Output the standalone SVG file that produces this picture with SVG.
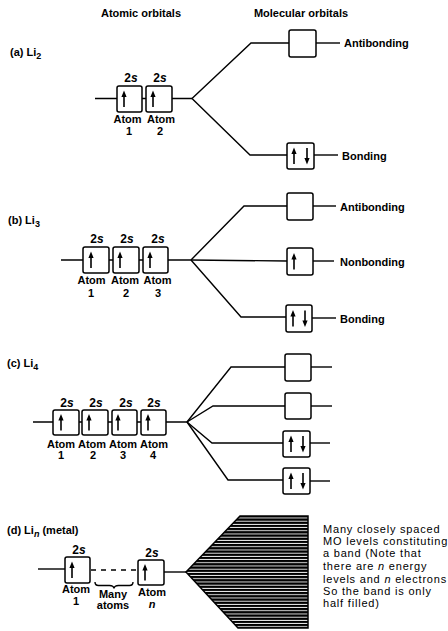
<svg xmlns="http://www.w3.org/2000/svg" width="448" height="631" viewBox="0 0 448 631">
<style>
.box{fill:#fff;stroke:#000;stroke-width:1.5}
.ln{fill:none;stroke:#000;stroke-width:1.4}
.t{font-family:"Liberation Sans",Arial,sans-serif;font-weight:bold;font-size:11px;fill:#000}
.c{text-anchor:middle}
.s2{font-family:"Liberation Sans",Arial,sans-serif;font-weight:bold;font-size:12px;text-anchor:middle}
.at{font-family:"Liberation Sans",Arial,sans-serif;font-weight:bold;font-size:11px;text-anchor:middle}
.d{font-family:"Liberation Sans",Arial,sans-serif;font-size:11px;letter-spacing:0.8px}
</style>
<defs>
<g id="up"><line x1="0" y1="8" x2="0" y2="-3" stroke="#000" stroke-width="1.6"/><polygon points="0,-8.5 -2.6,-2 2.6,-2" fill="#000"/></g>
<g id="dn"><line x1="0" y1="-8" x2="0" y2="3" stroke="#000" stroke-width="1.6"/><polygon points="0,8.5 -2.6,2 2.6,2" fill="#000"/></g>
<pattern id="hatch" width="8" height="3.2" patternUnits="userSpaceOnUse"><rect width="8" height="3.2" fill="#fff"/><rect y="0" width="8" height="2.3" fill="#000"/></pattern>
</defs>

<g id="headers">
<text class="t c" x="141" y="17">Atomic orbitals</text>
<text class="t c" x="301" y="17">Molecular orbitals</text>
</g>

<g id="connectors">
<!-- (a) -->
<line class="ln" x1="95" y1="98.5" x2="192" y2="98.5"/>
<polyline class="ln" points="192,98.5 251,43 289,43"/>
<polyline class="ln" points="192,98.5 250,155 287,155"/>
<line class="ln" x1="316" y1="43" x2="340" y2="43"/>
<line class="ln" x1="314" y1="155" x2="338" y2="155"/>
<!-- (b) -->
<line class="ln" x1="61" y1="260" x2="191" y2="260"/>
<polyline class="ln" points="191,260 244,206 287,206"/>
<polyline class="ln" points="191,260 287,261"/>
<polyline class="ln" points="191,260 241,317 286,317"/>
<line class="ln" x1="313" y1="206" x2="336" y2="206"/>
<line class="ln" x1="313" y1="261" x2="334" y2="261"/>
<line class="ln" x1="312" y1="318" x2="336" y2="318"/>
<!-- (c) -->
<line class="ln" x1="33" y1="422" x2="187" y2="422"/>
<polyline class="ln" points="187,422 231,367 285,367"/>
<polyline class="ln" points="187,422 213,406 285,406"/>
<polyline class="ln" points="187,422 212,443 283,443"/>
<polyline class="ln" points="187,422 228,480 283,480"/>
<line class="ln" x1="311" y1="367" x2="332" y2="367"/>
<line class="ln" x1="311" y1="406" x2="332" y2="406"/>
<line class="ln" x1="310" y1="443" x2="330" y2="443"/>
<line class="ln" x1="310" y1="481" x2="330" y2="481"/>
<!-- (d) -->
<line class="ln" x1="38" y1="569" x2="65" y2="569"/>
<line class="ln" x1="91" y1="570" x2="138" y2="570" stroke-dasharray="5,5"/>
<line class="ln" x1="164" y1="572" x2="186" y2="572"/>
<path class="ln" d="M95,582 q0,3.5 3.5,3.5 h11 q4,0 4.5,3 q0.5,-3 4.5,-3 h11 q3.5,0 3.5,-3.5"/>
</g>

<!-- (a) Li2 -->
<g id="label-a"><text class="t" x="10" y="56">(a) Li<tspan font-size="9" dy="3">2</tspan></text></g>
<g id="a-atom1">
<text class="s2" x="131" y="82">2<tspan font-style="italic">s</tspan></text>
<rect class="box" x="117" y="86" width="25" height="26" rx="2"/>
<use href="#up" x="124" y="99"/>
<text class="at" x="127.5" y="123">Atom</text><text class="at" x="129" y="135">1</text>
</g>
<g id="a-atom2">
<text class="s2" x="160" y="82">2<tspan font-style="italic">s</tspan></text>
<rect class="box" x="146" y="86" width="26" height="26" rx="2"/>
<use href="#up" x="153" y="99"/>
<text class="at" x="161" y="123">Atom</text><text class="at" x="160" y="135">2</text>
</g>
<g id="a-antibonding">
<rect class="box" x="289" y="30" width="27" height="27" rx="2"/>
<text class="t" x="344" y="47">Antibonding</text>
</g>
<g id="a-bonding">
<rect class="box" x="287" y="143" width="27" height="26" rx="2"/>
<use href="#up" x="294" y="156"/><use href="#dn" x="307" y="156"/>
<text class="t" x="342" y="160">Bonding</text>
</g>

<!-- (b) Li3 -->
<g id="label-b"><text class="t" x="8" y="224">(b) Li<tspan font-size="9" dy="3">3</tspan></text></g>
<g id="b-atom1">
<text class="s2" x="97" y="243">2<tspan font-style="italic">s</tspan></text>
<rect class="box" x="83" y="247" width="26" height="26" rx="2"/>
<use href="#up" x="91" y="260"/>
<text class="at" x="91.5" y="284">Atom</text><text class="at" x="91" y="297">1</text>
</g>
<g id="b-atom2">
<text class="s2" x="127" y="243">2<tspan font-style="italic">s</tspan></text>
<rect class="box" x="113" y="247" width="26" height="26" rx="2"/>
<use href="#up" x="120" y="260"/>
<text class="at" x="125" y="284">Atom</text><text class="at" x="126" y="297">2</text>
</g>
<g id="b-atom3">
<text class="s2" x="158" y="243">2<tspan font-style="italic">s</tspan></text>
<rect class="box" x="143" y="247" width="25" height="26" rx="2"/>
<use href="#up" x="150" y="260"/>
<text class="at" x="157.5" y="284">Atom</text><text class="at" x="158" y="297">3</text>
</g>
<g id="b-antibonding">
<rect class="box" x="287" y="193" width="26" height="27" rx="2"/>
<text class="t" x="340" y="211">Antibonding</text>
</g>
<g id="b-nonbonding">
<rect class="box" x="287" y="248" width="26" height="27" rx="2"/>
<use href="#up" x="294" y="261.5"/>
<text class="t" x="340" y="266">Nonbonding</text>
</g>
<g id="b-bonding">
<rect class="box" x="286" y="305" width="26" height="27" rx="2"/>
<use href="#up" x="293" y="318.5"/><use href="#dn" x="305" y="318.5"/>
<text class="t" x="340" y="323">Bonding</text>
</g>

<!-- (c) Li4 -->
<g id="label-c"><text class="t" x="7" y="367">(c) Li<tspan font-size="9" dy="3">4</tspan></text></g>
<g id="c-atom1">
<text class="s2" x="67" y="407">2<tspan font-style="italic">s</tspan></text>
<rect class="box" x="53" y="410" width="26" height="25" rx="2"/>
<use href="#up" x="61" y="422.5"/>
<text class="at" x="61" y="448">Atom</text><text class="at" x="61" y="459">1</text>
</g>
<g id="c-atom2">
<text class="s2" x="96" y="407">2<tspan font-style="italic">s</tspan></text>
<rect class="box" x="82" y="410" width="26" height="25" rx="2"/>
<use href="#up" x="89" y="422.5"/>
<text class="at" x="92" y="448">Atom</text><text class="at" x="93" y="459">2</text>
</g>
<g id="c-atom3">
<text class="s2" x="126" y="407">2<tspan font-style="italic">s</tspan></text>
<rect class="box" x="112" y="410" width="25" height="25" rx="2"/>
<use href="#up" x="118" y="422.5"/>
<text class="at" x="123" y="448">Atom</text><text class="at" x="123" y="459">3</text>
</g>
<g id="c-atom4">
<text class="s2" x="154" y="407">2<tspan font-style="italic">s</tspan></text>
<rect class="box" x="141" y="410" width="25" height="25" rx="2"/>
<use href="#up" x="148" y="422.5"/>
<text class="at" x="154" y="448">Atom</text><text class="at" x="153" y="459">4</text>
</g>
<g id="c-mo1"><rect class="box" x="285" y="354" width="26" height="27" rx="2"/></g>
<g id="c-mo2"><rect class="box" x="285" y="393" width="26" height="26" rx="2"/></g>
<g id="c-mo3"><rect class="box" x="283" y="431" width="27" height="26" rx="2"/>
<use href="#up" x="291" y="444"/><use href="#dn" x="303" y="444"/></g>
<g id="c-mo4"><rect class="box" x="283" y="468" width="27" height="26" rx="2"/>
<use href="#up" x="291" y="481"/><use href="#dn" x="303" y="481"/></g>

<!-- (d) Lin -->
<g id="label-d"><text class="t" x="7" y="534">(d) Li<tspan font-size="9" font-style="italic" dy="3">n</tspan><tspan dy="-3"> (metal)</tspan></text></g>
<g id="d-atom1">
<text class="s2" x="79" y="554">2<tspan font-style="italic">s</tspan></text>
<rect class="box" x="65" y="557" width="25" height="26" rx="2"/>
<use href="#up" x="72" y="570"/>
<text class="at" x="76" y="593">Atom</text><text class="at" x="76" y="605">1</text>
</g>
<g id="d-many">
<text class="at" x="113" y="598">Many</text>
<text class="at" x="113" y="609">atoms</text>
</g>
<g id="d-atomn">
<text class="s2" x="152" y="557">2<tspan font-style="italic">s</tspan></text>
<rect class="box" x="138" y="560" width="26" height="25" rx="2"/>
<use href="#up" x="145" y="572.5"/>
<text class="at" x="152" y="596">Atom</text><text class="at" x="152" y="608" font-style="italic">n</text>
</g>
<g id="d-band">
<polygon points="186,572 240,516 308,516 308,628 238,628" fill="url(#hatch)" stroke="#000" stroke-width="1.5"/>
</g>
<g id="d-note">
<text class="d" x="323" y="533">Many closely spaced</text>
<text class="d" x="323" y="545">MO levels constituting</text>
<text class="d" x="323" y="557">a band  (Note that</text>
<text class="d" x="323" y="570">there are <tspan font-style="italic">n</tspan> energy</text>
<text class="d" x="323" y="583">levels  and <tspan font-style="italic">n</tspan> electrons</text>
<text class="d" x="323" y="595">So the band is only</text>
<text class="d" x="323" y="607">half filled)</text>
</g>
</svg>
